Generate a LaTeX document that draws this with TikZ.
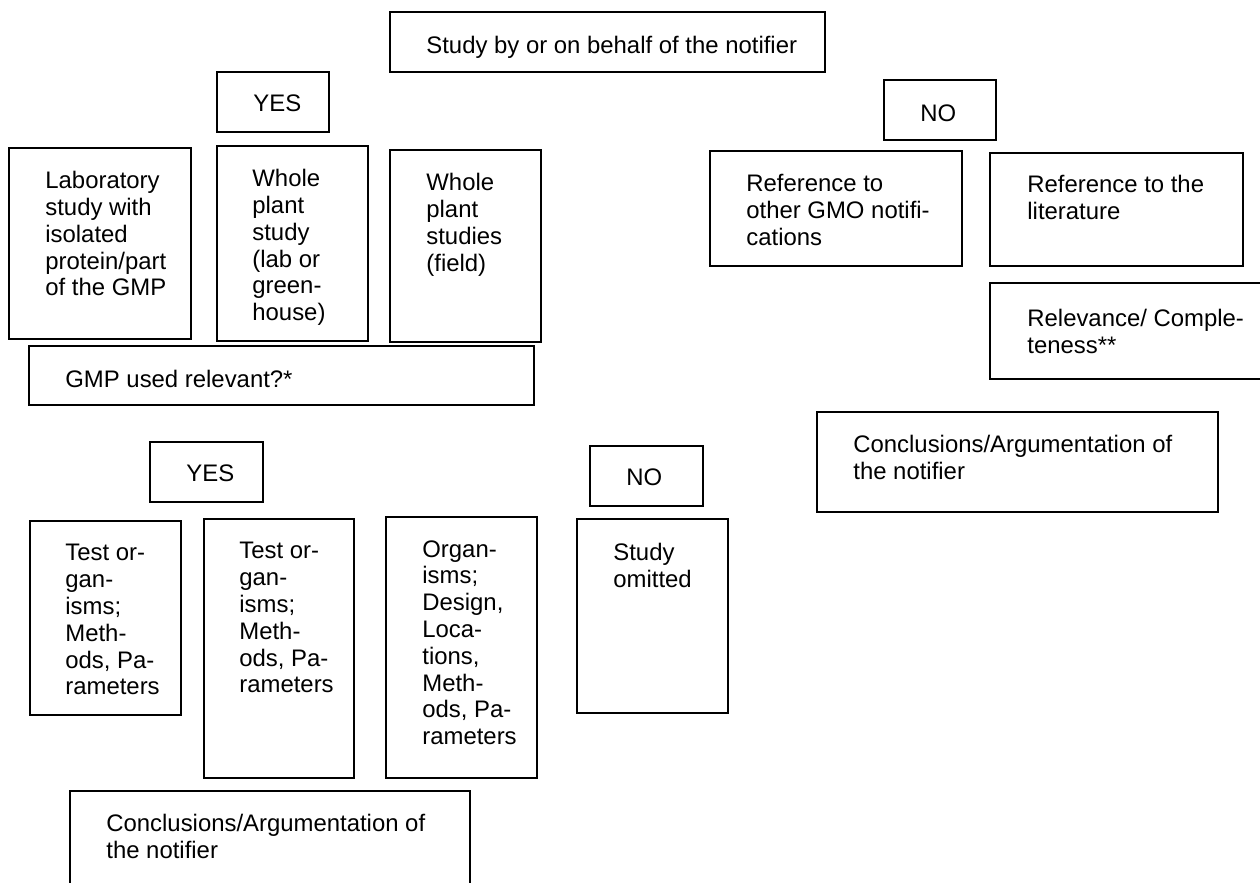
\documentclass[tikz,border=0pt]{standalone}
\usepackage{fontspec}
\setmainfont{Liberation Sans}
\usetikzlibrary{fit}
\begin{document}
\begin{tikzpicture}[x=0.5pt,y=-0.5pt,
  boxst/.style={draw=black, line width=0.9pt, inner sep=0pt, rectangle},
  txt/.style={anchor=north west, inner sep=0pt, align=left, font=\fontsize{11.95}{13.4}\selectfont}]
\useasboundingbox (0,0) rectangle (1260,883);
% top row
\node[boxst, fit={(390,12) (825,72)}] (study) {};
\node[txt] (studyt) at (426,36) {Study by or on behalf of the notifier};
\node[boxst, fit={(217,72) (329,132)}] (yes1) {};
\node[txt] (yes1t) at (253,94) {YES};
\node[boxst, fit={(884,80) (996,140)}] (no1) {};
\node[txt] (no1t) at (920,104) {NO};
% study types
\node[boxst, fit={(9,148) (191,339)}] (lab) {};
\node[txt] (labt) at (45,171) {Laboratory\\study with\\isolated\\protein/part\\of the GMP};
\node[boxst, fit={(217,146) (368,341)}] (wps) {};
\node[txt] (wpst) at (252,169) {Whole\\plant\\study\\(lab or\\green-\\house)};
\node[boxst, fit={(390,150) (541,342)}] (wpf) {};
\node[txt] (wpft) at (426,173) {Whole\\plant\\studies\\(field)};
\node[boxst, fit={(710,151) (962,266)}] (refgmo) {};
\node[txt] (refgmot) at (746,174) {Reference to\\other GMO notifi-\\cations};
\node[boxst, fit={(990,153) (1243,266)}] (reflit) {};
\node[txt] (reflitt) at (1027,175) {Reference to the\\literature};
\node[boxst, fit={(990,283) (1268,379)}] (relev) {};
\node[txt] (relevt) at (1027,309) {Relevance/ Comple-\\teness**};
\node[boxst, fit={(817,412) (1218,512)}] (concr) {};
\node[txt] (concrt) at (853,435) {Conclusions/Argumentation of\\the notifier};
% relevance
\node[boxst, fit={(29,346) (534,405)}] (gmp) {};
\node[txt] (gmpt) at (65,370) {GMP used relevant?*};
\node[boxst, fit={(150,442) (263,502)}] (yes2) {};
\node[txt] (yes2t) at (186,464) {YES};
\node[boxst, fit={(590,446) (703,506)}] (no2) {};
\node[txt] (no2t) at (626,468) {NO};
% details
\node[boxst, fit={(30,521) (181,715)}] (test1) {};
\node[txt] (test1t) at (65,544) {Test or-\\gan-\\isms;\\Meth-\\ods, Pa-\\rameters};
\node[boxst, fit={(204,519) (354,778)}] (test2) {};
\node[txt] (test2t) at (239,542) {Test or-\\gan-\\isms;\\Meth-\\ods, Pa-\\rameters};
\node[boxst, fit={(386,517) (537,778)}] (organ) {};
\node[txt] (organt) at (422,540) {Organ-\\isms;\\Design,\\Loca-\\tions,\\Meth-\\ods, Pa-\\rameters};
\node[boxst, fit={(577,519) (728,713)}] (omit) {};
\node[txt] (omitt) at (613,543) {Study\\omitted};
\node[boxst, fit={(70,791) (470,895)}] (concl) {};
\node[txt] (conclt) at (106,814) {Conclusions/Argumentation of\\the notifier};
\end{tikzpicture}
\end{document}
